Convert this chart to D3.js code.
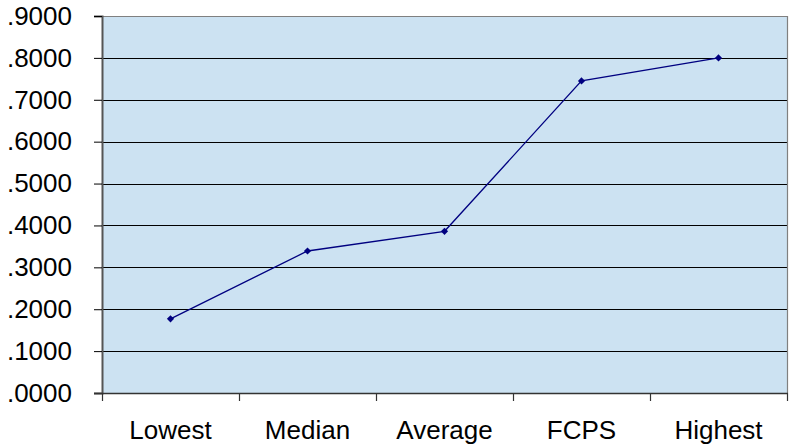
<!DOCTYPE html>
<html>
<head>
<meta charset="utf-8">
<script src="https://cdn.jsdelivr.net/npm/d3@7"></script>
<style>
  html, body { margin: 0; padding: 0; background: #ffffff; }
  svg { display: block; }
  text { font-family: "Liberation Sans", Arial, sans-serif; fill: #000; }
</style>
</head>
<body>
<svg id="chart" width="789" height="445"></svg>
<script>
// Categories along the x axis
const categories = ["Lowest", "Median", "Average", "FCPS", "Highest"];
// One value per category
const values = [0.177, 0.339, 0.386, 0.745, 0.800];
// Y axis tick values
const yTicks = [0, 0.1, 0.2, 0.3, 0.4, 0.5, 0.6, 0.7, 0.8, 0.9];

const svg = d3.select("#chart");
const plot = { left: 102, right: 787, top: 16, bottom: 393 };

const x = d3.scaleBand()
  .domain(categories)
  .range([plot.left, plot.right])
  .paddingInner(0)
  .paddingOuter(0);

const y = d3.scaleLinear()
  .domain([0, 0.9])
  .range([plot.bottom, plot.top]);

// plot area background
svg.append("rect")
  .attr("x", plot.left)
  .attr("y", plot.top)
  .attr("width", plot.right - plot.left)
  .attr("height", plot.bottom - plot.top)
  .attr("fill", "#cce2f2");

// horizontal gridlines
svg.append("g")
  .selectAll("line")
  .data(yTicks.filter(t => t > 0 && t < 0.9))
  .join("line")
  .attr("x1", plot.left)
  .attr("x2", plot.right)
  .attr("y1", d => Math.round(y(d)) + 0.5)
  .attr("y2", d => Math.round(y(d)) + 0.5)
  .attr("stroke", "#000")
  .attr("stroke-width", 1);

// plot area top and right border
svg.append("path")
  .attr("d", `M${plot.left},${y(0.9) + 0.5}H${plot.right + 0.5}V${plot.bottom}`)
  .attr("fill", "none")
  .attr("stroke", "#808080")
  .attr("stroke-width", 1.2);

// y axis
const fmt = d => d3.format(".4f")(d).replace(/^0/, "");
const yAxis = svg.append("g")
  .attr("transform", `translate(${plot.left},0)`)
  .call(d3.axisLeft(y).tickValues(yTicks).tickSize(8).tickPadding(22).tickFormat(fmt));
yAxis.select(".domain").attr("stroke", "#555").attr("stroke-width", 2);
yAxis.selectAll(".tick line").attr("stroke", "#000");
yAxis.selectAll(".tick text")
  .style("font-family", "'Liberation Sans', Arial, sans-serif")
  .style("font-size", "26px")
  .attr("fill", "#000");

// x axis line and ticks at category boundaries
const xg = svg.append("g");
xg.append("line")
  .attr("x1", plot.left - 8)
  .attr("x2", plot.right + 1)
  .attr("y1", plot.bottom + 0.5)
  .attr("y2", plot.bottom + 0.5)
  .attr("stroke", "#333")
  .attr("stroke-width", 1.5);
const bounds = categories.map(c => x(c)).concat([x(categories[categories.length - 1]) + x.bandwidth()]);
xg.selectAll("line.tick")
  .data(bounds)
  .join("line")
  .attr("class", "tick")
  .attr("x1", d => Math.round(d) + 0.5)
  .attr("x2", d => Math.round(d) + 0.5)
  .attr("y1", plot.bottom)
  .attr("y2", plot.bottom + 8)
  .attr("stroke", "#333")
  .attr("stroke-width", 1.2);

// category labels
xg.selectAll("text")
  .data(categories)
  .join("text")
  .attr("x", d => x(d) + x.bandwidth() / 2)
  .attr("y", 439)
  .attr("text-anchor", "middle")
  .style("font-size", "26px")
  .text(d => d);

// data line
const line = d3.line()
  .x((d, i) => x(categories[i]) + x.bandwidth() / 2)
  .y(d => y(d));

svg.append("path")
  .datum(values)
  .attr("d", line)
  .attr("fill", "none")
  .attr("stroke", "#000080")
  .attr("stroke-width", 1.3);

// diamond markers (squares turned 45 degrees)
svg.append("g")
  .selectAll("path")
  .data(values)
  .join("path")
  .attr("transform", (d, i) => `translate(${x(categories[i]) + x.bandwidth() / 2},${y(d)}) rotate(45)`)
  .attr("d", d3.symbol(d3.symbolSquare, 26))
  .attr("fill", "#000080");
</script>
</body>
</html>
